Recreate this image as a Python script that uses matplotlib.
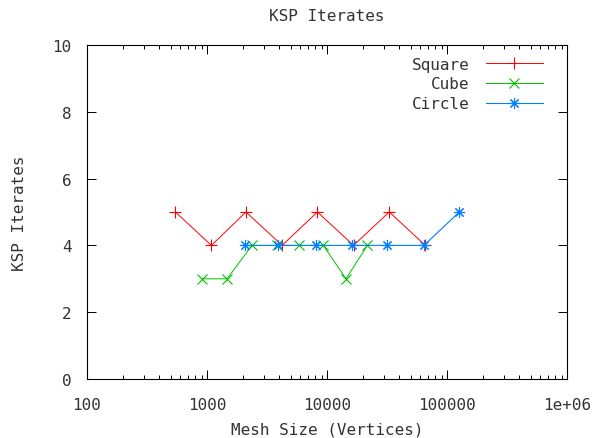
import matplotlib

matplotlib.use('Agg')
import matplotlib.pyplot as plt
from matplotlib.ticker import LogLocator, FixedLocator, NullFormatter

# values
square_x = [545, 1089, 2113, 4225, 8321, 16641, 33025, 66049]
square_y = [5, 4, 5, 4, 5, 4, 5, 4]
cube_x = [904, 1470, 2370, 3830, 5880, 9310, 14400, 21700]
cube_y = [3, 3, 4, 4, 4, 4, 3, 4]
circle_x = [2073, 3907, 8091, 16060, 31890, 64330, 126600]
circle_y = [4, 4, 4, 4, 4, 4, 5]
x_ticks = [100, 1000, 10000, 100000, 1000000]
x_labels = ['100', '1000', '10000', '100000', '1e+06']
y_ticks = [0, 2, 4, 6, 8, 10]

TXT = '#333333'
plt.rcParams['font.family'] = 'DejaVu Sans Mono'
plt.rcParams['font.size'] = 11.5
plt.rcParams['text.color'] = TXT
plt.rcParams['axes.labelcolor'] = TXT

fig = plt.figure(figsize=(6.04, 4.39), dpi=100)
ax = fig.add_axes([87 / 604, 59 / 439, 480 / 604, 334 / 439])

asterisk = (8, 2, 0)
ax.plot(square_x, square_y, color='#ff0000', lw=0.7, marker='+', ms=9,
        mew=0.8, label='Square')
ax.plot(cube_x, cube_y, color='#00c000', lw=0.7, marker='x', ms=7,
        mew=0.8, label='Cube')
ax.plot(circle_x, circle_y, color='#0080ff', lw=0.8, marker=asterisk, ms=8,
        mew=0.8, label='Circle')

ax.set_xscale('log')
ax.set_xlim(100, 1e6)
ax.set_ylim(0, 10)
ax.xaxis.set_major_locator(FixedLocator(x_ticks))
ax.set_xticklabels(x_labels)
ax.xaxis.set_minor_locator(LogLocator(base=10, subs=range(2, 10)))
ax.xaxis.set_minor_formatter(NullFormatter())
ax.set_yticks(y_ticks)
ax.set_yticklabels([str(v) for v in y_ticks])

ax.tick_params(which='major', direction='in', length=6.5, width=0.7,
               top=True, right=True, labelsize=11.5, labelcolor=TXT)
ax.tick_params(axis='x', which='major', pad=13)
ax.tick_params(axis='y', which='major', pad=11)
ax.tick_params(which='minor', direction='in', length=3, width=0.7,
               top=True, right=True)
for s in ax.spines.values():
    s.set_linewidth(0.8)

ax.set_title('KSP Iterates', pad=18, fontsize=11.5)
ax.set_xlabel('Mesh Size (Vertices)', labelpad=7)
ax.set_ylabel('KSP Iterates', labelpad=18)

ax.legend(loc='upper right', bbox_to_anchor=(0.95, 0.965), frameon=False,
          markerfirst=False, handlelength=3.6, handletextpad=1.0,
          labelspacing=0.3, borderpad=0, borderaxespad=0, fontsize=11.5)

fig.savefig('out.png', dpi=100)
